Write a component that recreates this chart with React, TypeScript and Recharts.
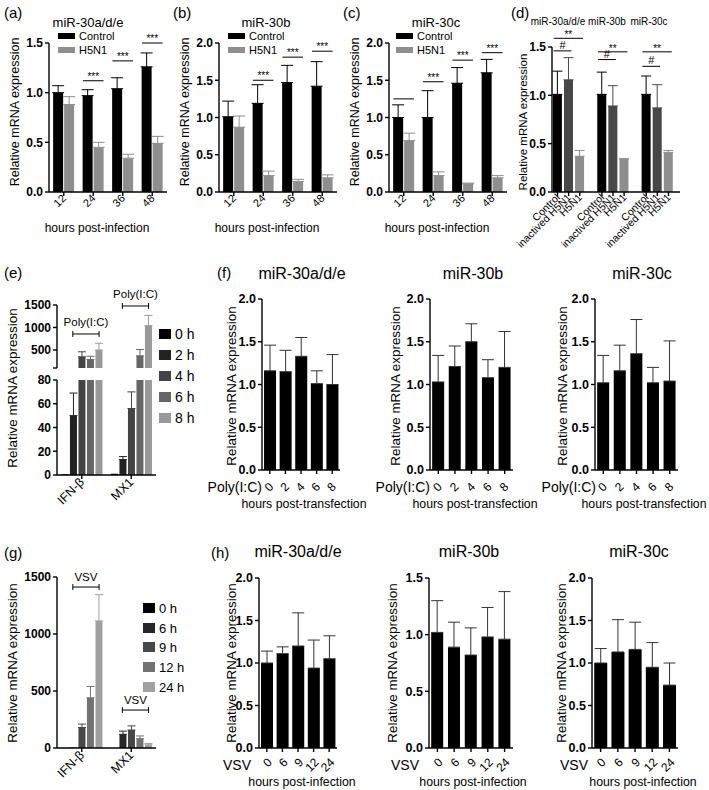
import React from "react";
import { BarChart, Bar, XAxis, YAxis, ErrorBar, ReferenceLine } from "recharts";

const FONT = '"Liberation Sans", Arial, Helvetica, sans-serif';
const BLACK = "#000000";
const GREY = "#8e8e8e";

// (a)-(c) miR-30 after H5N1 infection
const hpi = ["12", "24", "36", "48"];
const infNames = ["Control", "H5N1"];
const aCtrl = [1.0, 0.97, 1.04, 1.26];
const aCtrlErr = [0.07, 0.06, 0.11, 0.14];
const aH5 = [0.88, 0.45, 0.34, 0.49];
const aH5Err = [0.08, 0.05, 0.04, 0.07];
const aSig: [number, number, string][] = [[1, 1.12, "***"], [2, 1.32, "***"], [3, 1.5, "***"]];

const bCtrl = [1.01, 1.19, 1.47, 1.42];
const bCtrlErr = [0.21, 0.25, 0.23, 0.33];
const bH5 = [0.87, 0.22, 0.14, 0.19];
const bH5Err = [0.15, 0.06, 0.03, 0.04];
const bSig: [number, number, string][] = [[1, 1.5, "***"], [2, 1.81, "***"], [3, 1.89, "***"]];

const cCtrl = [1.0, 1.0, 1.46, 1.6];
const cCtrlErr = [0.17, 0.36, 0.21, 0.18];
const cH5 = [0.69, 0.22, 0.11, 0.19];
const cH5Err = [0.1, 0.05, 0.01, 0.03];
const cSig: [number, number, string][] = [[0, 1.25, ""], [1, 1.48, "***"], [2, 1.77, "***"], [3, 1.87, "***"]];

// (d) inactivated virus
const dGenes = ["miR-30a/d/e", "miR-30b", "miR-30c"];
const dGroups = ["Control", "inactived H5N1", "H5N1"];
const dCtrl = [1.01, 1.01, 1.01];
const dCtrlErr = [0.24, 0.23, 0.19];
const dInact = [1.16, 0.89, 0.87];
const dInactErr = [0.23, 0.21, 0.24];
const dH5 = [0.37, 0.34, 0.41];
const dH5Err = [0.06, 0.005, 0.02];
const dHash = [1.46, 1.37, 1.3];
const dStars = [1.59, 1.45, 1.45];

// (e) Poly(I:C) transfection, IFN-b / MX1
const genes = ["IFN-β", "MX1"];
const eTimes = ["0 h", "2 h", "4 h", "6 h", "8 h"];
const eIFN = [0.6, 50, 350, 290, 500];
const eIFNErr = [0, 19, 110, 70, 150];
const eMX1 = [1, 13, 56, 370, 1040];
const eMX1Err = [0, 2.5, 14, 140, 230];
const ePolyY = [856, 1478];

// (f) miR-30 after Poly(I:C)
const fTimes = ["0", "2", "4", "6", "8"];
const f1 = [1.16, 1.15, 1.33, 1.01, 1.0];
const f1Err = [0.3, 0.25, 0.22, 0.15, 0.35];
const f2 = [1.03, 1.21, 1.5, 1.08, 1.2];
const f2Err = [0.31, 0.24, 0.21, 0.21, 0.42];
const f3 = [1.02, 1.16, 1.36, 1.02, 1.04];
const f3Err = [0.32, 0.3, 0.4, 0.18, 0.47];

// (g) VSV infection, IFN-b / MX1
const gTimes = ["0 h", "6 h", "9 h", "12 h", "24 h"];
const gIFN = [1, 4, 180, 440, 1115];
const gIFNErr = [0, 0, 30, 100, 230];
const gMX1 = [1, 120, 158, 82, 28];
const gMX1Err = [0, 28, 36, 24, 12];
const gVsvY = [1412, 333];

// (h) miR-30 after VSV
const hTimes = ["0", "6", "9", "12", "24"];
const h1 = [1.0, 1.11, 1.2, 0.94, 1.05];
const h1Err = [0.14, 0.08, 0.39, 0.33, 0.27];
const h2 = [1.02, 0.89, 0.82, 0.98, 0.96];
const h2Err = [0.28, 0.22, 0.24, 0.26, 0.42];
const h3 = [1.0, 1.13, 1.16, 0.95, 0.74];
const h3Err = [0.17, 0.38, 0.32, 0.29, 0.26];

const timeColors = ["#000000", "#222222", "#444444", "#666666", "#999999"];
const gTimeColors = ["#000000", "#262626", "#474747", "#727272", "#a0a0a0"];

const AX = { stroke: "#000", strokeWidth: 1.4 };
const YW = 46;
const MT = 40;
const MR = 12;
const XH = 70;

type Ser = { vals: (number | null)[]; errs: (number | null)[]; color: string; errColor?: string };
// at: category index; from/to: offsets from that category's centre, in bands
type Mark = { at: number; from: number; to: number; y: number; text?: string; bracket?: boolean; fs?: number; gap?: number };

const fix1 = (v: number) => v.toFixed(1);

function markShape(m: Mark, band: number) {
  return (p: any) => {
    const cx = p.x1;
    const y1 = p.y1;
    const xa = cx + m.from * band;
    const xb = cx + m.to * band;
    return (
      <g>
        <line x1={xa} x2={xb} y1={y1} y2={y1} stroke="#000" strokeWidth={1} />
        {m.bracket && <line x1={xa} x2={xa} y1={y1 - 3} y2={y1 + 3} stroke="#000" strokeWidth={1} />}
        {m.bracket && <line x1={xb} x2={xb} y1={y1 - 3} y2={y1 + 3} stroke="#000" strokeWidth={1} />}
        {m.text ? (
          <text x={(xa + xb) / 2} y={y1 - (m.gap ?? 2)} textAnchor="middle" fontSize={m.fs ?? 10} fontFamily={FONT} fill="#000">
            {m.text}
          </text>
        ) : null}
      </g>
    );
  };
}

function Panel(props: any) {
  const {
    x0, x1, yTop, yZero, cats, labels, series, domain, ticks, fmt = fix1,
    showX = true, tickFs = 12, catGap = "12%", barGap = 1, stacked = false,
    padR = 0, marks = [], lab = { dx: 3, dy: 7, fs: 11 }, capW = 5,
  } = props;
  const plotH = yZero - yTop;
  const axisY = MT + plotH;
  const band = (x1 - x0 - padR) / cats.length;
  const rows = cats.map((c: string, i: number) => {
    const r: any = { c };
    series.forEach((s: Ser, k: number) => {
      r["v" + k] = s.vals[i];
      const e = s.errs ? s.errs[i] : null;
      r["e" + k] = e != null && e > 0 ? [0, e] : null;
    });
    return r;
  });
  const tick = (p: any) => {
    const i = cats.indexOf(p.payload.value);
    const text = labels ? labels[i] : p.payload.value;
    if (!text) return <g />;
    return (
      <g>
        <line x1={p.x} x2={p.x} y1={axisY} y2={axisY + 4} stroke="#000" strokeWidth={1.4} />
        <text
          transform={`translate(${p.x + lab.dx},${axisY + lab.dy}) rotate(-45)`}
          textAnchor="end"
          fontSize={lab.fs}
          fontFamily={FONT}
          fill="#000"
        >
          {text}
        </text>
      </g>
    );
  };
  const width = x1 - x0 + YW + MR;
  const height = plotH + MT + XH;
  return (
    <div style={{ position: "absolute", left: x0 - YW, top: yTop - MT }}>
      <BarChart
        width={width}
        height={height}
        data={rows}
        margin={{ top: MT, right: MR, left: 0, bottom: showX ? 0 : XH }}
        barCategoryGap={catGap}
        barGap={barGap}
      >
        <XAxis
          dataKey="c"
          hide={!showX}
          height={XH}
          tick={tick}
          tickLine={false}
          axisLine={AX}
          interval={0}
          padding={{ left: 0, right: padR }}
        />
        <YAxis
          width={YW}
          domain={domain}
          ticks={ticks}
          interval={0}
          allowDataOverflow
          tickFormatter={fmt}
          tickSize={4}
          tickMargin={2}
          tickLine={AX}
          axisLine={AX}
          tick={{ fontSize: tickFs, fontWeight: 700, fill: "#000", fontFamily: FONT }}
        />
        {series.map((s: Ser, k: number) => (
          <Bar key={k} dataKey={"v" + k} fill={s.color} isAnimationActive={false} stackId={stacked ? "s" : undefined}>
            <ErrorBar dataKey={"e" + k} width={capW} stroke={s.errColor ?? s.color} strokeWidth={1} direction="y" />
          </Bar>
        ))}
        {marks.map((m: Mark, i: number) => (
          <ReferenceLine
            key={"m" + i}
            segment={[{ x: cats[m.at], y: m.y }, { x: cats[m.at], y: m.y }]}
            ifOverflow="visible"
            shape={markShape(m, band)}
          />
        ))}
      </BarChart>
    </div>
  );
}

function T({ x, y, s = 12, r = 0, a = "middle", w = 400, children }: any) {
  const tx = a === "middle" ? "-50%" : a === "end" ? "-100%" : "0%";
  return (
    <div
      style={{
        position: "absolute",
        left: x,
        top: y,
        transform: `translate(${tx},-50%) rotate(${r}deg)`,
        fontSize: s,
        fontWeight: w,
        whiteSpace: "nowrap",
        lineHeight: 1,
      }}
    >
      {children}
    </div>
  );
}

function Key({ x, y, names, colors, sw, sh, step, fs }: any) {
  return (
    <>
      {names.map((n: string, i: number) => (
        <React.Fragment key={n}>
          <div style={{ position: "absolute", left: x, top: y + i * step - sh / 2, width: sw, height: sh, background: colors[i] }} />
          <T x={x + sw + 4} y={y + i * step} s={fs} a="start">{n}</T>
        </React.Fragment>
      ))}
    </>
  );
}

const sigMarks = (list: [number, number, string][]): Mark[] =>
  list.map(([at, y, t]) => ({ at, from: -0.35, to: 0.35, y, text: t, fs: 10, gap: 1 }));

const YLAB = "Relative mRNA expression";

function InfPanel({ x0, ctrl, ctrlErr, h5, h5Err, sig, domain, ticks }: any) {
  return (
    <Panel
      x0={x0} x1={x0 + 118} yTop={43} yZero={192}
      cats={hpi}
      series={[
        { vals: ctrl, errs: ctrlErr, color: BLACK },
        { vals: h5, errs: h5Err, color: GREY },
      ]}
      domain={domain} ticks={ticks} catGap="14%" marks={sigMarks(sig)}
      lab={{ dx: 3, dy: 7, fs: 11 }} capW={6}
    />
  );
}

// (d) slots: 3 bars per gene separated by an empty slot
const dSlots: string[] = [];
const dSlotLabels: string[] = [];
dGenes.forEach((g, gi) => {
  dGroups.forEach((grp, k) => {
    dSlots.push(gi + "-" + k);
    dSlotLabels.push(grp);
  });
  if (gi < dGenes.length - 1) {
    dSlots.push(gi + "-gap");
    dSlotLabels.push("");
  }
});
const dVals = [dCtrl, dInact, dH5];
const dErrs = [dCtrlErr, dInactErr, dH5Err];
const dColors = [BLACK, "#474747", GREY];
const dSeries: Ser[] = dVals.map((vals, k) => ({
  vals: dSlots.map((id) => (id.endsWith("-" + k) ? vals[Number(id.split("-")[0])] : null)),
  errs: dSlots.map((id) => (id.endsWith("-" + k) ? dErrs[k][Number(id.split("-")[0])] : null)),
  color: dColors[k],
}));
const dMarks: Mark[] = dGenes.flatMap((_, g) => [
  { at: 4 * g, from: -0.35, to: 1.25, y: dHash[g], text: "#", fs: 11, gap: 2 },
  { at: 4 * g, from: -0.35, to: 2.3, y: dStars[g], text: "**", fs: 10, gap: 0 },
]);

// (e)/(g) series per time point
const timeSeries = (ifn: number[], ifnErr: number[], mx1: number[], mx1Err: number[], colors: string[]): Ser[] =>
  colors.map((color, k) => ({ vals: [ifn[k], mx1[k]], errs: [ifnErr[k], mx1Err[k]], color }));

const eSeries = timeSeries(eIFN, eIFNErr, eMX1, eMX1Err, timeColors);
const eTop: Ser[] = eSeries.map((s) => ({
  ...s,
  vals: s.vals.map((v) => (v != null && v > 100 ? v : null)),
  errs: s.vals.map((v, i) => (v != null && v > 100 ? s.errs[i] : null)),
}));
const eBottom: Ser[] = eSeries.map((s) => ({
  ...s,
  vals: s.vals.map((v) => (v == null ? null : Math.min(v, 80))),
  errs: s.vals.map((v, i) => (v != null && v <= 80 ? s.errs[i] : null)),
}));
const gSeries = timeSeries(gIFN, gIFNErr, gMX1, gMX1Err, gTimeColors);

const bracket = (ys: number[], text: string, gap: number): Mark[] =>
  ys.map((y, i) => ({ at: i, from: -0.18, to: 0.35, y, text, bracket: true, fs: 11.5, gap }));

function MiniPanel({ x0, x1, yTop, yZero, cats, vals, errs, domain, ticks, lab }: any) {
  return (
    <Panel
      x0={x0} x1={x1} yTop={yTop} yZero={yZero} cats={cats}
      series={[{ vals, errs, color: BLACK, errColor: "#333" }]}
      domain={domain} ticks={ticks} catGap="13%" tickFs={12.5} lab={lab} capW={6}
    />
  );
}

const t2 = [0, 0.5, 1, 1.5, 2];
const t15 = [0, 0.5, 1, 1.5];
const fLab = { dx: 4.5, dy: 17.5, fs: 12 };
const hLab = { dx: 6, dy: 15, fs: 12 };

export default function App() {
  return (
    <div
      style={{
        position: "relative",
        width: 709,
        height: 790,
        background: "#fff",
        fontFamily: FONT,
        color: "#000",
        overflow: "hidden",
      }}
    >
      <style>{"body{margin:0} .recharts-surface{overflow:visible}"}</style>

      {/* (a)-(c) */}
      <T x={4} y={12} s={15} a="start">(a)</T>
      <T x={173} y={12} s={15} a="start">(b)</T>
      <T x={343} y={12} s={15} a="start">(c)</T>
      <T x={511} y={12} s={15} a="start">(d)</T>
      <T x={88} y={22} s={13}>miR-30a/d/e</T>
      <T x={266} y={22} s={13}>miR-30b</T>
      <T x={436} y={22} s={13}>miR-30c</T>
      <InfPanel x0={49} ctrl={aCtrl} ctrlErr={aCtrlErr} h5={aH5} h5Err={aH5Err} sig={aSig} domain={[0, 1.5]} ticks={t15} />
      <InfPanel x0={219} ctrl={bCtrl} ctrlErr={bCtrlErr} h5={bH5} h5Err={bH5Err} sig={bSig} domain={[0, 2]} ticks={t2} />
      <InfPanel x0={389} ctrl={cCtrl} ctrlErr={cCtrlErr} h5={cH5} h5Err={cH5Err} sig={cSig} domain={[0, 2]} ticks={t2} />
      <Key x={58} y={36} names={infNames} colors={[BLACK, GREY]} sw={17} sh={6} step={14} fs={11} />
      <Key x={228} y={36} names={infNames} colors={[BLACK, GREY]} sw={17} sh={6} step={14} fs={11} />
      <Key x={396} y={36} names={infNames} colors={[BLACK, GREY]} sw={17} sh={6} step={14} fs={11} />
      <T x={15} y={112} s={12.5} r={-90}>{YLAB}</T>
      <T x={185} y={112} s={12.5} r={-90}>{YLAB}</T>
      <T x={355} y={112} s={12.5} r={-90}>{YLAB}</T>
      <T x={97} y={228} s={12}>hours post-infection</T>
      <T x={267} y={228} s={12}>hours post-infection</T>
      <T x={437} y={228} s={12}>hours post-infection</T>

      {/* (d) */}
      <T x={558} y={22} s={10}>{dGenes[0]}</T>
      <T x={607} y={22} s={10}>{dGenes[1]}</T>
      <T x={649} y={22} s={10}>{dGenes[2]}</T>
      <T x={524} y={122} s={11.5} r={-90}>{YLAB}</T>
      <Panel
        x0={552} x1={680} yTop={47} yZero={192}
        cats={dSlots} labels={dSlotLabels} series={dSeries} stacked
        domain={[0, 1.5]} ticks={t15} catGap="8%" padR={6}
        marks={dMarks} lab={{ dx: 3, dy: 6, fs: 10.5 }} capW={5}
      />

      {/* (e) */}
      <T x={4} y={272} s={15} a="start">(e)</T>
      <T x={13} y={388} s={13.4} r={-90}>{YLAB}</T>
      <Panel
        x0={57} x1={156} yTop={305} yZero={368} cats={genes} series={eTop} showX={false}
        domain={[100, 1500]} ticks={[100, 500, 1000, 1500]} fmt={(v: number) => (v === 100 ? "" : String(v))}
        catGap="9%" barGap={1.5} marks={bracket(ePolyY, "Poly(I:C)", 8)} capW={4}
      />
      <Panel
        x0={57} x1={156} yTop={380} yZero={475} cats={genes} series={eBottom}
        domain={[0, 80]} ticks={[0, 20, 40, 60, 80]} fmt={(v: number) => String(v)}
        catGap="9%" barGap={1.5} lab={{ dx: 3, dy: 8, fs: 12.5 }} capW={4}
      />
      <Key x={159} y={334} names={eTimes} colors={timeColors} sw={12} sh={10} step={21} fs={14} />

      {/* (f) */}
      <T x={217} y={272} s={15} a="start">(f)</T>
      <T x={302} y={274} s={16}>miR-30a/d/e</T>
      <T x={473} y={274} s={16}>miR-30b</T>
      <T x={642} y={274} s={16}>miR-30c</T>
      <T x={232} y={386} s={13.4} r={-90}>{YLAB}</T>
      <T x={396} y={386} s={13.4} r={-90}>{YLAB}</T>
      <T x={563} y={386} s={13.4} r={-90}>{YLAB}</T>
      <MiniPanel x0={262} x1={340} yTop={299} yZero={470} cats={fTimes} vals={f1} errs={f1Err} domain={[0, 2]} ticks={t2} lab={fLab} />
      <MiniPanel x0={430} x1={513} yTop={299} yZero={470} cats={fTimes} vals={f2} errs={f2Err} domain={[0, 2]} ticks={t2} lab={fLab} />
      <MiniPanel x0={595} x1={678} yTop={299} yZero={470} cats={fTimes} vals={f3} errs={f3Err} domain={[0, 2]} ticks={t2} lab={fLab} />
      <T x={262} y={487} s={14} a="end">Poly(I:C)</T>
      <T x={430} y={487} s={14} a="end">Poly(I:C)</T>
      <T x={596} y={487} s={14} a="end">Poly(I:C)</T>
      <T x={304} y={504} s={12.3}>hours post-transfection</T>
      <T x={475} y={504} s={12.3}>hours post-transfection</T>
      <T x={644} y={504} s={12.3}>hours post-transfection</T>

      {/* (g) */}
      <T x={4} y={552} s={15} a="start">(g)</T>
      <T x={13} y={663} s={13.4} r={-90}>{YLAB}</T>
      <Panel
        x0={57} x1={156} yTop={577} yZero={748} cats={genes} series={gSeries}
        domain={[0, 1500]} ticks={[0, 500, 1000, 1500]} fmt={(v: number) => String(v)}
        catGap="9%" barGap={1.5} marks={bracket(gVsvY, "VSV", 6)} lab={{ dx: 3, dy: 8, fs: 12.5 }} capW={4}
      />
      <Key x={143} y={608} names={gTimes} colors={gTimeColors} sw={12} sh={10} step={19.7} fs={13} />

      {/* (h) */}
      <T x={211} y={552} s={15} a="start">(h)</T>
      <T x={298} y={552} s={16}>miR-30a/d/e</T>
      <T x={469} y={552} s={16}>miR-30b</T>
      <T x={639} y={552} s={16}>miR-30c</T>
      <T x={232} y={663} s={13.4} r={-90}>{YLAB}</T>
      <T x={393} y={663} s={13.4} r={-90}>{YLAB}</T>
      <T x={562} y={663} s={13.4} r={-90}>{YLAB}</T>
      <MiniPanel x0={259} x1={337} yTop={578} yZero={748} cats={hTimes} vals={h1} errs={h1Err} domain={[0, 2]} ticks={t2} lab={hLab} />
      <MiniPanel x0={429} x1={513} yTop={578} yZero={748} cats={hTimes} vals={h2} errs={h2Err} domain={[0, 1.5]} ticks={t15} lab={hLab} />
      <MiniPanel x0={592} x1={678} yTop={578} yZero={748} cats={hTimes} vals={h3} errs={h3Err} domain={[0, 2]} ticks={t2} lab={hLab} />
      <T x={251} y={765} s={14} a="end">VSV</T>
      <T x={419} y={765} s={14} a="end">VSV</T>
      <T x={588} y={765} s={14} a="end">VSV</T>
      <T x={302} y={782} s={12.3}>hours post-infection</T>
      <T x={473} y={782} s={12.3}>hours post-infection</T>
      <T x={643} y={782} s={12.3}>hours post-infection</T>
    </div>
  );
}
